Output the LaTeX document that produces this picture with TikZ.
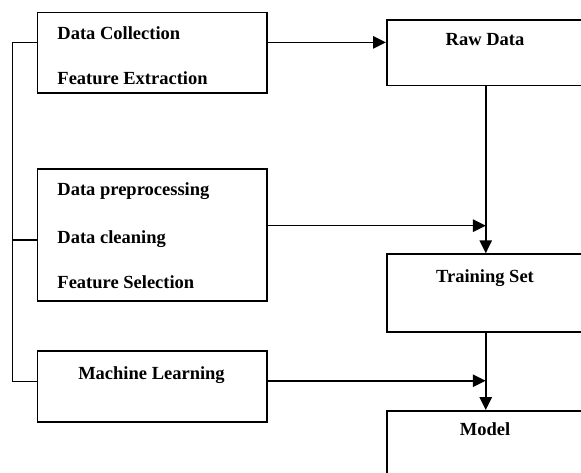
\documentclass[tikz,border=0pt]{standalone}
\usepackage{fontspec}
\setmainfont{Liberation Serif}
\usetikzlibrary{arrows.meta}
\tikzset{
  box/.style={draw, rectangle, anchor=north west, inner sep=0pt},
  lbl/.style={inner sep=0pt, font=\fontsize{18.5}{22}\selectfont\bfseries},
  arr/.style={-{Triangle[length=13pt,width=12.5pt]}},
}

\begin{document}
\begin{tikzpicture}[x=1pt,y=-1pt,line width=1.5pt]
	\useasboundingbox (0,0) rectangle (581,473);
	\clip (0,0) rectangle (581,473);
	\node[box, minimum width=229.3pt, minimum height=80.3pt] (collect) at (36.7,12) {};
	\node[box, minimum width=229.3pt, minimum height=131.7pt] (prep) at (36.7,168.3) {};
	\node[box, minimum width=229.3pt, minimum height=71pt] (learn) at (36.7,350) {};
	\node[box, minimum width=198pt, minimum height=65.7pt] (raw) at (386,19.3) {};
	\node[box, minimum width=198pt, minimum height=77.7pt] (train) at (386,253.3) {};
	\node[box, minimum width=198pt, minimum height=100pt] (model) at (386,410) {};
	\node[lbl, anchor=base west] (collecta) at (56.7,39.3) {Data Collection};
	\node[lbl, anchor=base west] (collectb) at (56.7,85) {Feature Extraction};
	\node[lbl, anchor=base west] (prepa) at (56.7,196) {Data preprocessing};
	\node[lbl, anchor=base west] (prepb) at (56.7,243.3) {Data cleaning};
	\node[lbl, anchor=base west] (prepc) at (56.7,288.3) {Feature Selection};
	\node[lbl, anchor=base] (learnlbl) at (151.5,379.3) {Machine Learning};
	\node[lbl, anchor=base] (rawlbl) at (485,46) {Raw Data};
	\node[lbl, anchor=base] (trainlbl) at (485,282.7) {Training Set};
	\node[lbl, anchor=base] (modellbl) at (485,435) {Model};
	\draw ([yshift=10.5pt]collect.west) -- ++(-24,0) |- ([yshift=4.8pt]learn.west);
	\draw ([yshift=-5.1pt]prep.west) -- ++(-24,0);
	\draw[arr] ([yshift=10.5pt]collect.east) -- ([yshift=10.5pt]raw.west);
	\draw[arr] ([yshift=9.2pt]prep.east) -- ([yshift=9.2pt]prep.east -| raw.south);
	\draw[arr] ([yshift=5.5pt]learn.east) -- ([yshift=5.5pt]learn.east -| train.south);
	\draw[arr] (raw.south) -- (train.north);
	\draw[arr] (train.south) -- (model.north);
\end{tikzpicture}
\end{document}
